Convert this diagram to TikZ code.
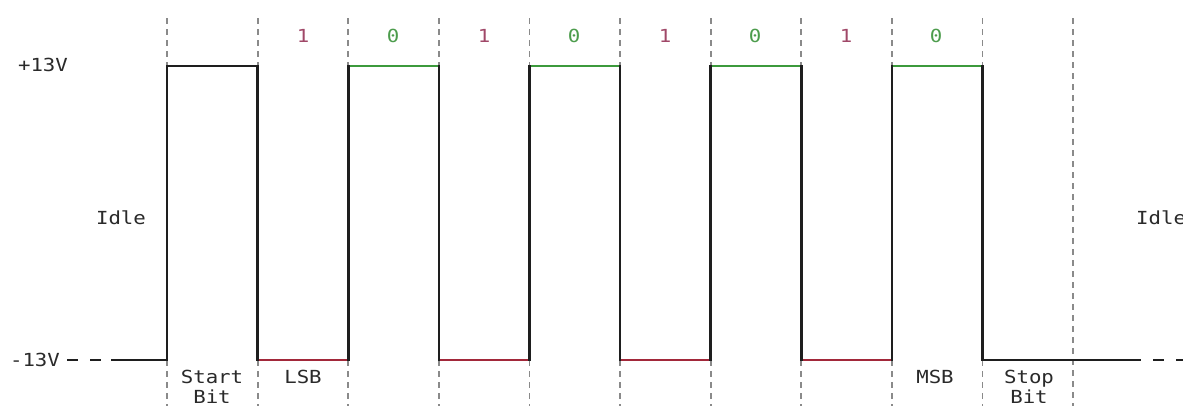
\documentclass[tikz,border=0pt]{standalone}
\usepackage{fontspec}
\newfontfamily\monofnt[FakeStretch=1.15]{DejaVu Sans Mono}
\definecolor{sigred}{HTML}{A2283A}
\definecolor{siggreen}{HTML}{3C9A3C}
\definecolor{bitred}{HTML}{A04868}
\definecolor{bitgreen}{HTML}{4C9C4C}
\definecolor{sigblack}{HTML}{1E1E1E}
\definecolor{gridgray}{HTML}{8A8A8A}
\definecolor{txt}{HTML}{2A2A2A}
\begin{document}
\begin{tikzpicture}[x=1pt,y=-1pt,
  grid/.style={draw=gridgray,line width=1.8pt,dash pattern=on 6pt off 5pt},
  sig/.style={draw=sigblack,line width=2.6pt,line cap=rect},
  sigz/.style={draw=siggreen,line width=2.6pt},
  sigo/.style={draw=sigred,line width=2.6pt},
  idled/.style={draw=sigblack,line width=2.6pt,dash pattern=on 11pt off 12pt},
  lbl/.style={font=\monofnt\fontsize{18}{20}\selectfont,text=txt,inner sep=0pt,align=center},
  bitone/.style={font=\monofnt\fontsize{18}{20}\selectfont,text=bitred,inner sep=0pt},
  bitzero/.style={font=\monofnt\fontsize{18}{20}\selectfont,text=bitgreen,inner sep=0pt}]
\useasboundingbox (0,0) rectangle (1183,405);
\fill[white] (0,0) rectangle (1183,405);
% grid coordinates
\foreach \i [evaluate=\i as \x using {167+90.6*\i}] in {0,...,10} {
  \coordinate (t\i) at (\x,18);
  \coordinate (h\i) at (\x,66);
  \coordinate (l\i) at (\x,360);
  \coordinate (b\i) at (\x,410);
}
% dashed grid lines
\foreach \i in {0,...,9} {
  \draw[grid] (t\i) -- (h\i);
  \draw[grid] (l\i) -- (b\i);
}
\draw[grid] (t10) -- (b10);
% idle ends
\coordinate (idleLs) at (112,360);
\coordinate (idleLd) at (67,360);
\coordinate (idleLe) at (102,360);
\coordinate (idleRs) at (1140,360);
\coordinate (idleRd) at (1153,360);
\coordinate (idleRe) at (1200,360);
\draw[idled] (idleLd) -- (idleLe);
\draw[idled] (idleRd) -- (idleRe);
% coloured bit levels
\draw[sigz] (h2) -- (h3);
\draw[sigz] (h4) -- (h5);
\draw[sigz] (h6) -- (h7);
\draw[sigz] (h8) -- (h9);
\draw[sigo] (l1) -- (l2);
\draw[sigo] (l3) -- (l4);
\draw[sigo] (l5) -- (l6);
\draw[sigo] (l7) -- (l8);
% black parts
\draw[sig] (idleLs) -- (l0);
\draw[sig] (h0) -- (h1);
\draw[sig] (l9) -- (idleRs);
\foreach \i in {0,...,9} { \draw[sig] (h\i) -- (l\i); }
% labels
\node[lbl] (vhi) at (43,65) {+13V};
\node[lbl] (vlo) at (35,360) {-13V};
\node[lbl] (idl) at (121,218) {Idle};
\node[lbl,anchor=west] (idr) at (1136,218) {Idle};
\node[bitone]  (b1) at (303,36) {1};
\node[bitzero] (b2) at (393,36) {0};
\node[bitone]  (b3) at (484,36) {1};
\node[bitzero] (b4) at (574,36) {0};
\node[bitone]  (b5) at (665,36) {1};
\node[bitzero] (b6) at (755,36) {0};
\node[bitone]  (b7) at (846,36) {1};
\node[bitzero] (b8) at (936,36) {0};
\node[lbl,anchor=north] (start) at (212,370) {Start\\Bit};
\node[lbl] (lsb) at (303,377) {LSB};
\node[lbl] (msb) at (935,377) {MSB};
\node[lbl,anchor=north] (stop) at (1029,370) {Stop\\Bit};
\end{tikzpicture}
\end{document}
